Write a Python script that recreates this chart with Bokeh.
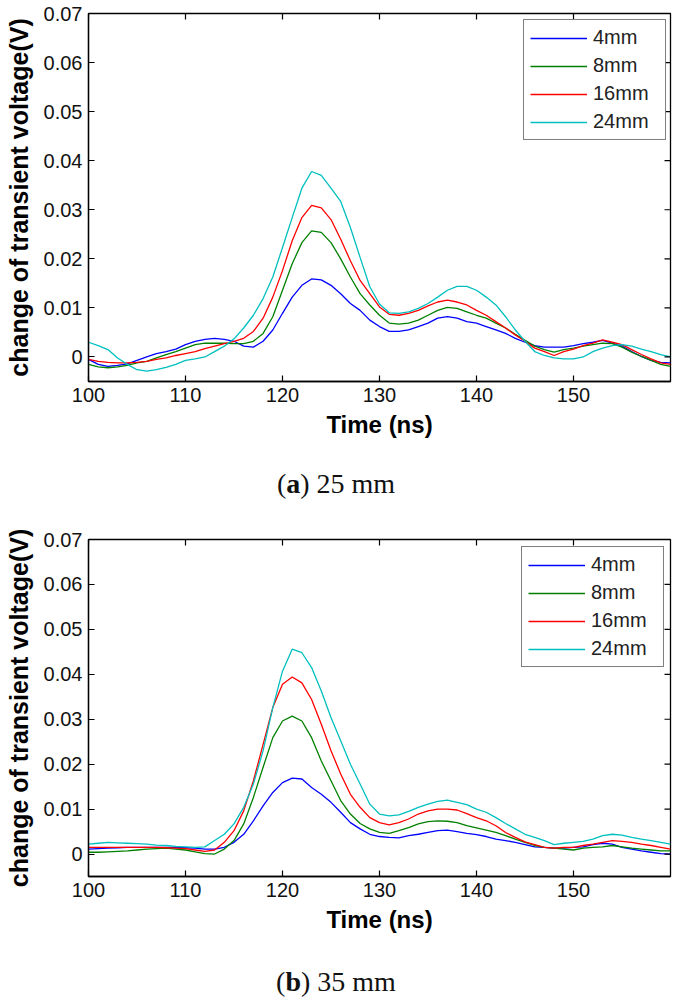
from math import pi

from bokeh.plotting import figure
from bokeh.models import (Range1d, FixedTicker, Legend, LegendItem,
                          NumeralTickFormatter, Div)
from bokeh.layouts import column
from bokeh.embed import file_html
from bokeh.resources import INLINE

# time axis (ns)
time_ns = list(range(100, 161))

# (a) 25 mm -- change of transient voltage (V)
a_4mm = [-0.0005, -0.0015, -0.0019, -0.0017, -0.0014, -0.0007, 0.0000, 0.0007, 0.0011, 0.0016,
         0.0025, 0.0032, 0.0036, 0.0038, 0.0036, 0.0032, 0.0022, 0.0020, 0.0032, 0.0055,
         0.0089, 0.0122, 0.0146, 0.0159, 0.0157, 0.0146, 0.0129, 0.0109, 0.0095, 0.0075,
         0.0062, 0.0052, 0.0052, 0.0055, 0.0062, 0.0069, 0.0079, 0.0082, 0.0079, 0.0072,
         0.0069, 0.0062, 0.0055, 0.0048, 0.0038, 0.0030, 0.0023, 0.0020, 0.0020, 0.0020,
         0.0023, 0.0027, 0.0030, 0.0034, 0.0028, 0.0022, 0.0011, 0.0001, -0.0007, -0.0011,
         -0.0012]
a_8mm = [-0.0015, -0.0020, -0.0022, -0.0020, -0.0017, -0.0012, -0.0009, -0.0002, 0.0005, 0.0011,
         0.0018, 0.0025, 0.0028, 0.0028, 0.0028, 0.0027, 0.0027, 0.0032, 0.0048, 0.0082,
         0.0136, 0.0190, 0.0233, 0.0257, 0.0254, 0.0233, 0.0200, 0.0163, 0.0129, 0.0106,
         0.0085, 0.0069, 0.0067, 0.0069, 0.0075, 0.0085, 0.0095, 0.0101, 0.0099, 0.0092,
         0.0085, 0.0079, 0.0069, 0.0059, 0.0046, 0.0034, 0.0022, 0.0015, 0.0010, 0.0015,
         0.0018, 0.0022, 0.0025, 0.0028, 0.0027, 0.0020, 0.0010, 0.0001, -0.0007, -0.0015,
         -0.0019]
a_16mm = [-0.0005, -0.0009, -0.0011, -0.0012, -0.0012, -0.0011, -0.0009, -0.0005, -0.0002, 0.0003,
          0.0007, 0.0011, 0.0017, 0.0022, 0.0027, 0.0032, 0.0038, 0.0052, 0.0079, 0.0122,
          0.0176, 0.0237, 0.0284, 0.0309, 0.0304, 0.0280, 0.0240, 0.0196, 0.0156, 0.0129,
          0.0102, 0.0087, 0.0085, 0.0089, 0.0095, 0.0104, 0.0112, 0.0116, 0.0112, 0.0106,
          0.0095, 0.0085, 0.0072, 0.0059, 0.0045, 0.0032, 0.0018, 0.0011, 0.0003, 0.0011,
          0.0016, 0.0023, 0.0028, 0.0035, 0.0030, 0.0025, 0.0015, 0.0005, -0.0004, -0.0012,
          -0.0015]
a_24mm = [0.0030, 0.0023, 0.0015, -0.0002, -0.0015, -0.0026, -0.0029, -0.0026, -0.0021, -0.0015,
          -0.0007, -0.0004, 0.0000, 0.0011, 0.0022, 0.0037, 0.0059, 0.0085, 0.0119, 0.0163,
          0.0223, 0.0284, 0.0344, 0.0378, 0.0370, 0.0344, 0.0317, 0.0264, 0.0203, 0.0143,
          0.0108, 0.0090, 0.0089, 0.0092, 0.0099, 0.0109, 0.0122, 0.0136, 0.0144, 0.0144,
          0.0136, 0.0122, 0.0106, 0.0082, 0.0055, 0.0032, 0.0011, 0.0003, -0.0002, -0.0004,
          -0.0004, 0.0000, 0.0011, 0.0018, 0.0023, 0.0025, 0.0022, 0.0016, 0.0011, 0.0005,
          0.0000]

# (b) 35 mm
b_4mm = [0.0011, 0.0012, 0.0013, 0.0014, 0.0015, 0.0015, 0.0015, 0.0015, 0.0015, 0.0015,
         0.0014, 0.0013, 0.0011, 0.0011, 0.0015, 0.0026, 0.0044, 0.0074, 0.0107, 0.0137,
         0.0159, 0.0169, 0.0167, 0.0148, 0.0133, 0.0115, 0.0093, 0.0070, 0.0056, 0.0044,
         0.0039, 0.0037, 0.0036, 0.0041, 0.0044, 0.0048, 0.0052, 0.0053, 0.0050, 0.0046,
         0.0043, 0.0039, 0.0033, 0.0030, 0.0026, 0.0021, 0.0016, 0.0015, 0.0013, 0.0013,
         0.0015, 0.0016, 0.0021, 0.0024, 0.0022, 0.0015, 0.0011, 0.0007, 0.0004, 0.0001,
         0.0000]
b_8mm = [0.0004, 0.0004, 0.0005, 0.0006, 0.0007, 0.0009, 0.0011, 0.0012, 0.0013, 0.0011,
         0.0009, 0.0005, 0.0001, 0.0000, 0.0011, 0.0030, 0.0067, 0.0126, 0.0193, 0.0259,
         0.0296, 0.0307, 0.0296, 0.0259, 0.0207, 0.0163, 0.0119, 0.0089, 0.0068, 0.0056,
         0.0048, 0.0046, 0.0052, 0.0059, 0.0067, 0.0072, 0.0074, 0.0073, 0.0070, 0.0063,
         0.0058, 0.0053, 0.0048, 0.0041, 0.0033, 0.0026, 0.0019, 0.0015, 0.0013, 0.0011,
         0.0009, 0.0013, 0.0015, 0.0016, 0.0019, 0.0016, 0.0013, 0.0011, 0.0009, 0.0007,
         0.0007]
b_16mm = [0.0015, 0.0015, 0.0015, 0.0015, 0.0015, 0.0015, 0.0015, 0.0015, 0.0014, 0.0013,
          0.0012, 0.0009, 0.0006, 0.0009, 0.0026, 0.0052, 0.0096, 0.0163, 0.0244, 0.0326,
          0.0378, 0.0394, 0.0381, 0.0344, 0.0289, 0.0230, 0.0178, 0.0133, 0.0104, 0.0081,
          0.0070, 0.0065, 0.0070, 0.0078, 0.0089, 0.0096, 0.0100, 0.0100, 0.0098, 0.0090,
          0.0081, 0.0074, 0.0063, 0.0048, 0.0037, 0.0027, 0.0021, 0.0015, 0.0013, 0.0015,
          0.0015, 0.0019, 0.0022, 0.0026, 0.0030, 0.0028, 0.0026, 0.0022, 0.0019, 0.0015,
          0.0011]
b_24mm = [0.0022, 0.0024, 0.0026, 0.0025, 0.0024, 0.0023, 0.0022, 0.0020, 0.0019, 0.0017,
          0.0016, 0.0015, 0.0016, 0.0030, 0.0044, 0.0067, 0.0104, 0.0156, 0.0230, 0.0326,
          0.0407, 0.0456, 0.0448, 0.0415, 0.0363, 0.0304, 0.0252, 0.0200, 0.0156, 0.0111,
          0.0089, 0.0085, 0.0087, 0.0095, 0.0104, 0.0111, 0.0117, 0.0120, 0.0115, 0.0110,
          0.0100, 0.0093, 0.0081, 0.0068, 0.0056, 0.0044, 0.0037, 0.0030, 0.0021, 0.0024,
          0.0026, 0.0028, 0.0033, 0.0041, 0.0044, 0.0042, 0.0037, 0.0033, 0.0030, 0.0026,
          0.0022]

labels = ["4mm", "8mm", "16mm", "24mm"]
colors = ["#0000ff", "#008000", "#ff0000", "#00bfbf"]
x_ticks = [100, 110, 120, 130, 140, 150]
y_ticks = [0, 0.01, 0.02, 0.03, 0.04, 0.05, 0.06, 0.07]
x_min, x_max = 100, 160
y_min, y_max = -0.005, 0.07

FONT = "Liberation Sans"


def panel(series, height, border_top, border_bottom, legend_loc):
    p = figure(width=672, height=height, output_backend="svg", toolbar_location=None,
               x_range=Range1d(x_min, x_max), y_range=Range1d(y_min, y_max),
               min_border_left=88, min_border_right=2,
               min_border_top=border_top, min_border_bottom=border_bottom)
    p.grid.visible = False
    p.outline_line_color = "black"
    p.outline_line_width = 1.3

    items = []
    for ys, lab, col in zip(series, labels, colors):
        r = p.line(time_ns, ys, line_color=col, line_width=1.3)
        items.append(LegendItem(label=lab, renderers=[r]))

    # MATLAB-style inward ticks mirrored on top and right edges
    p.ray(x=x_ticks, y=[y_max] * len(x_ticks), length=6, length_units="screen",
          angle=-pi / 2, line_color="black", line_width=1.2)
    p.ray(x=[x_max] * len(y_ticks), y=y_ticks, length=6, length_units="screen",
          angle=pi, line_color="black", line_width=1.2)

    p.xaxis.ticker = FixedTicker(ticks=x_ticks)
    p.yaxis.ticker = FixedTicker(ticks=y_ticks)
    p.yaxis.formatter = NumeralTickFormatter(format="0.[00]")
    for ax in p.axis:
        ax.major_tick_in = 6
        ax.major_tick_out = 0
        ax.minor_tick_line_color = None
        ax.axis_line_color = "black"
        ax.axis_line_width = 1.3
        ax.major_tick_line_color = "black"
        ax.major_tick_line_width = 1.2
        ax.major_label_text_font = FONT
        ax.major_label_text_font_size = "20px"
        ax.major_label_text_color = "#111111"
        ax.major_label_standoff = 6
        ax.axis_label_text_font = FONT
        ax.axis_label_text_font_style = "bold"
        ax.axis_label_text_color = "black"

    p.xaxis.axis_label = "Time (ns)"
    p.xaxis.axis_label_text_font_size = "24px"
    p.xaxis.axis_label_standoff = 6

    p.yaxis.axis_label = "change of transient voltage(V)"
    p.yaxis.axis_label_text_font_size = "25px"
    p.yaxis.axis_label_standoff = 8

    leg = Legend(items=items, location=legend_loc, margin=0, padding=6, spacing=5,
                 glyph_width=57, glyph_height=20, label_width=66,
                 label_standoff=6, border_line_color="black", border_line_width=1.2,
                 label_text_font=FONT, label_text_font_size="20px",
                 label_text_color="#222222", background_fill_color="white")
    p.add_layout(leg)
    return p


def caption(letter, rest, height, pad, line):
    html = ('<div style="font-family:\'Liberation Serif\';font-size:28px;'
            'line-height:%dpx;padding-top:%dpx;color:#111;">(<b>%s</b>) %s</div>'
            % (line, pad, letter, rest))
    return Div(text=html, width=672, height=height, margin=0,
               styles={"text-align": "center", "line-height": "%dpx" % line,
                       "font-family": "Liberation Serif", "font-size": "28px"})


pa = panel([a_4mm, a_8mm, a_16mm, a_24mm], 450, 13, 69, (435, 241))
ca = caption("a", "25 mm", 68, 0, 68)
pb = panel([b_4mm, b_8mm, b_16mm, b_24mm], 432, 21, 74, (433, 209))
cb = caption("b", "35 mm", 46, 22, 20)

layout = column(pa, ca, pb, cb, spacing=0)

open("out.html", "w").write(file_html(layout, INLINE))
